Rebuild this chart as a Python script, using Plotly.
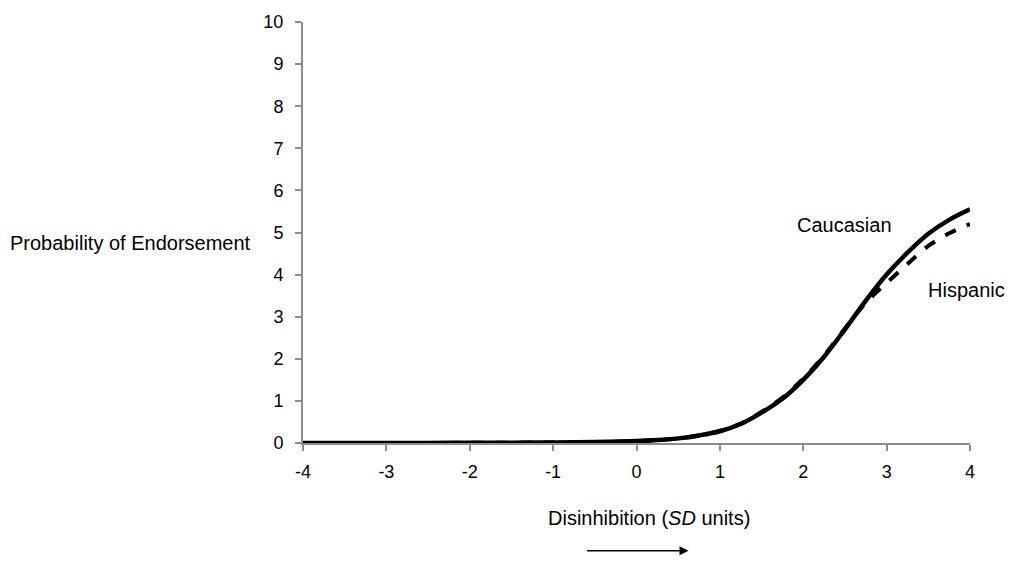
import plotly.graph_objects as go

x_vals = [-4, -3.5, -3, -2.5, -2, -1.5, -1, -0.5, 0, 0.25, 0.5, 0.75, 1, 1.25, 1.5,
          1.75, 2, 2.25, 2.5, 2.75, 3, 3.25, 3.5, 3.75, 4]
caucasian = [0.0, 0.0, 0.0, 0.002, 0.004, 0.007, 0.012, 0.022, 0.045, 0.07, 0.11, 0.18,
             0.28, 0.45, 0.72, 1.05, 1.5, 2.05, 2.7, 3.38, 4.0, 4.52, 4.97, 5.3, 5.55]
hispanic = [0.0, 0.0, 0.0, 0.002, 0.004, 0.007, 0.012, 0.022, 0.045, 0.07, 0.11, 0.18,
            0.29, 0.46, 0.74, 1.08, 1.53, 2.08, 2.72, 3.33, 3.8, 4.25, 4.68, 4.98, 5.2]
x_ticks = [-4, -3, -2, -1, 0, 1, 2, 3, 4]
x_tick_labels = ["-4", "-3", "-2", "-1", "0", "1", "2", "3", "4"]
y_ticks = list(range(0, 11))

font_family = "Liberation Sans, Arial, sans-serif"
axis_color = "#8c8c8c"

fig = go.Figure()
fig.add_trace(go.Scatter(x=x_vals, y=caucasian, mode="lines", name="Caucasian",
                         line=dict(color="black", width=4.5, shape="spline"),
                         showlegend=False))
fig.add_trace(go.Scatter(x=x_vals, y=hispanic, mode="lines", name="Hispanic",
                         line=dict(color="black", width=4, dash="dash", shape="spline"),
                         showlegend=False))

fig.update_layout(
    width=1012, height=562,
    margin=dict(l=303, r=42, t=17, b=119),
    paper_bgcolor="white", plot_bgcolor="white",
    font=dict(family=font_family, size=18, color="black"),
    xaxis=dict(range=[-4, 4], tickvals=x_ticks, ticktext=x_tick_labels,
               showgrid=False, zeroline=False,
               showline=True, linecolor=axis_color, linewidth=2,
               ticks="outside", ticklen=6, tickcolor=axis_color, tickwidth=2,
               ticklabelstandoff=5,
               tickfont=dict(size=18, color="black")),
    yaxis=dict(range=[0, 10], tickvals=y_ticks, showgrid=False, zeroline=False,
               showline=True, linecolor=axis_color, linewidth=2,
               ticks="outside", ticklen=6, tickcolor=axis_color, tickwidth=2,
               ticklabelstandoff=8,
               tickfont=dict(size=18, color="black")),
    annotations=[
        dict(text="Caucasian", x=2.49, y=5.19, xref="x", yref="y", showarrow=False,
             xanchor="center", yanchor="middle", font=dict(size=20)),
        dict(text="Hispanic", x=3.96, y=3.64, xref="x", yref="y", showarrow=False,
             xanchor="center", yanchor="middle", font=dict(size=20)),
        dict(text="Probability of Endorsement", x=0, y=0.5, xref="paper", yref="paper",
             xanchor="right", yanchor="middle", xshift=-50, yshift=-10,
             showarrow=False, font=dict(size=20)),
        dict(text="Disinhibition (<i>SD</i> units)", x=0.519, y=0, xref="paper", yref="paper",
             xanchor="center", yanchor="middle", yshift=-75,
             showarrow=False, font=dict(size=20)),
        dict(text="", x=0.578, y=-0.256, xref="paper", yref="paper",
             ax=-103, ay=0, axref="pixel", ayref="pixel", showarrow=True,
             arrowhead=2, arrowsize=1.2, arrowwidth=1.5, arrowcolor="black"),
    ],
)

fig.write_html("out.html")
